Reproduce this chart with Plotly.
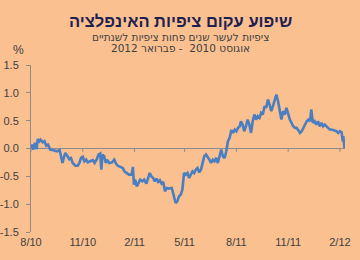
import pandas as pd
import plotly.graph_objects as go

start_date = "2010-08-01"
day_offsets = [0, 2, 4, 7, 10, 12, 15, 17, 21, 24, 27, 30, 32, 34, 40, 46, 51, 54, 56, 59,
               61, 65, 68, 71, 74, 79, 83, 86, 89, 92, 95, 98, 101, 105, 110, 113, 117, 120, 123, 125,
               127, 130, 133, 135, 139, 144, 148, 151, 154, 159, 163, 166, 171, 174, 179, 181, 183, 185, 188, 191,
               194, 198, 201, 205, 208, 211, 214, 217, 220, 223, 226, 229, 232, 235, 238, 241, 244, 247, 250, 252,
               255, 257, 260, 263, 266, 269, 272, 275, 278, 281, 284, 287, 290, 293, 296, 299, 302, 305, 308, 311,
               314, 317, 320, 323, 326, 329, 332, 335, 338, 341, 344, 347, 350, 353, 356, 359, 362, 365, 368, 371,
               373, 376, 379, 382, 385, 388, 391, 394, 397, 400, 403, 406, 409, 412, 415, 418, 421, 424, 427, 430,
               433, 436, 439, 442, 445, 448, 451, 454, 457, 460, 463, 466, 469, 472, 475, 478, 481, 484, 487, 490,
               493, 496, 498, 501, 504, 507, 510, 513, 516, 519, 522, 525, 528, 531, 534, 537, 540, 543, 546, 549,
               552, 554, 555, 557]
slope = [0.01, 0.07, -0.02, 0.10, -0.01, 0.17, 0.13, 0.16, 0.11, 0.13, 0.05, 0.07, 0.03, -0.02, -0.03, -0.05, -0.03, -0.14, -0.26, -0.14,
         -0.08, -0.14, -0.19, -0.17, -0.26, -0.31, -0.31, -0.26, -0.17, -0.15, -0.23, -0.20, -0.25, -0.23, -0.21, -0.26, -0.19, -0.11, -0.09, -0.38,
         -0.11, -0.14, -0.26, -0.20, -0.26, -0.25, -0.20, -0.27, -0.31, -0.33, -0.35, -0.41, -0.44, -0.47, -0.47, -0.33, -0.65, -0.56, -0.68, -0.62,
         -0.56, -0.59, -0.56, -0.63, -0.53, -0.44, -0.50, -0.53, -0.59, -0.54, -0.60, -0.57, -0.63, -0.60, -0.77, -0.71, -0.72, -0.71, -0.71, -0.78,
         -0.89, -0.98, -0.95, -0.86, -0.83, -0.74, -0.44, -0.47, -0.44, -0.53, -0.47, -0.41, -0.44, -0.38, -0.35, -0.43, -0.38, -0.23, -0.14, -0.11,
         -0.15, -0.20, -0.26, -0.20, -0.23, -0.17, -0.26, -0.11, -0.02, -0.14, -0.17, -0.05, 0.13, 0.19, 0.33, 0.28, 0.34, 0.31, 0.37, 0.40,
         0.49, 0.43, 0.31, 0.40, 0.52, 0.43, 0.28, 0.49, 0.61, 0.52, 0.58, 0.55, 0.64, 0.61, 0.76, 0.73, 0.88, 0.79, 0.67, 0.76,
         0.85, 0.97, 0.85, 0.64, 0.52, 0.67, 0.61, 0.73, 0.61, 0.52, 0.46, 0.40, 0.37, 0.37, 0.33, 0.28, 0.31, 0.37, 0.43, 0.49,
         0.52, 0.49, 0.70, 0.46, 0.49, 0.43, 0.49, 0.40, 0.46, 0.40, 0.43, 0.40, 0.37, 0.34, 0.34, 0.33, 0.31, 0.31, 0.28, 0.31,
         0.29, 0.13, 0.22, 0.01]

tick_dates = ["2010-08-01", "2010-11-01", "2011-02-01", "2011-05-01", "2011-08-01", "2011-11-01", "2012-02-01"]
tick_labels = ["8/10", "11/10", "2/11", "5/11", "8/11", "11/11", "2/12"]
y_ticks = [-1.5, -1.0, -0.5, 0.0, 0.5, 1.0, 1.5]

title_text = "שיפוע עקום ציפיות האינפלציה"
subtitle1 = "ציפיות לעשר שנים פחות ציפיות לשנתיים"
subtitle2 = "אוגוסט 2010  - פברואר 2012"
unit_label = "%"

dates = pd.to_datetime(start_date) + pd.to_timedelta(day_offsets, unit="D")

BG = "#FAC090"
FONT = "Arial, 'Liberation Sans', 'DejaVu Sans', sans-serif"
SUBFONT = "'DejaVu Sans', Arial, sans-serif"

fig = go.Figure()
fig.add_trace(go.Scatter(x=dates, y=slope, mode="lines",
                         line=dict(color="#4A7EC2", width=2.6), hoverinfo="skip"))

for d in tick_dates:
    fig.add_shape(type="line", xref="x", yref="y", x0=d, x1=d, y0=0, y1=-0.06,
                  line=dict(color="#8C8C8C", width=1))

fig.update_layout(
    width=360, height=260,
    paper_bgcolor=BG, plot_bgcolor=BG,
    margin=dict(l=31, r=15, t=65, b=28),
    showlegend=False,
    font=dict(family=FONT, size=10, color="#404040"),
    xaxis=dict(type="date", range=["2010-08-01", "2012-02-10"],
               tickvals=tick_dates, ticktext=tick_labels, automargin=False,
               showline=False, showgrid=False, zeroline=False, ticks="",
               tickfont=dict(size=11, color="#404040"), ticklabelstandoff=2),
    yaxis=dict(range=[-1.5, 1.5], tickvals=y_ticks, automargin=False,
               ticktext=[f"{v:.1f}" for v in y_ticks],
               showline=True, linecolor="#8C8C8C", linewidth=1,
               ticks="outside", ticklen=4, tickcolor="#8C8C8C",
               showgrid=False, zeroline=True, zerolinecolor="#8C8C8C", zerolinewidth=1,
               tickfont=dict(size=11, color="#404040"), ticklabelstandoff=5),
    annotations=[
        dict(text=f"<b>{title_text}</b>", xref="paper", yref="paper", x=0.5, y=1,
             xanchor="center", yanchor="middle", xshift=-8, yshift=65 - 21, showarrow=False,
             font=dict(size=16.5, color="#1F2050", family=FONT)),
        dict(text=subtitle1, xref="paper", yref="paper", x=0.5, y=1,
             xanchor="center", yanchor="middle", xshift=-8, yshift=65 - 37, showarrow=False,
             font=dict(size=10.5, color="#404040", family=SUBFONT)),
        dict(text=subtitle2, xref="paper", yref="paper", x=0.5, y=1,
             xanchor="center", yanchor="middle", xshift=-8, yshift=65 - 48, showarrow=False,
             font=dict(size=10.5, color="#404040", family=SUBFONT)),
        dict(text=unit_label, xref="paper", yref="paper", x=0, y=1,
             xanchor="center", yanchor="middle", xshift=-13, yshift=65 - 50, showarrow=False,
             font=dict(size=12, color="#404040", family=FONT)),
    ],
)

fig.write_html("out.html")
